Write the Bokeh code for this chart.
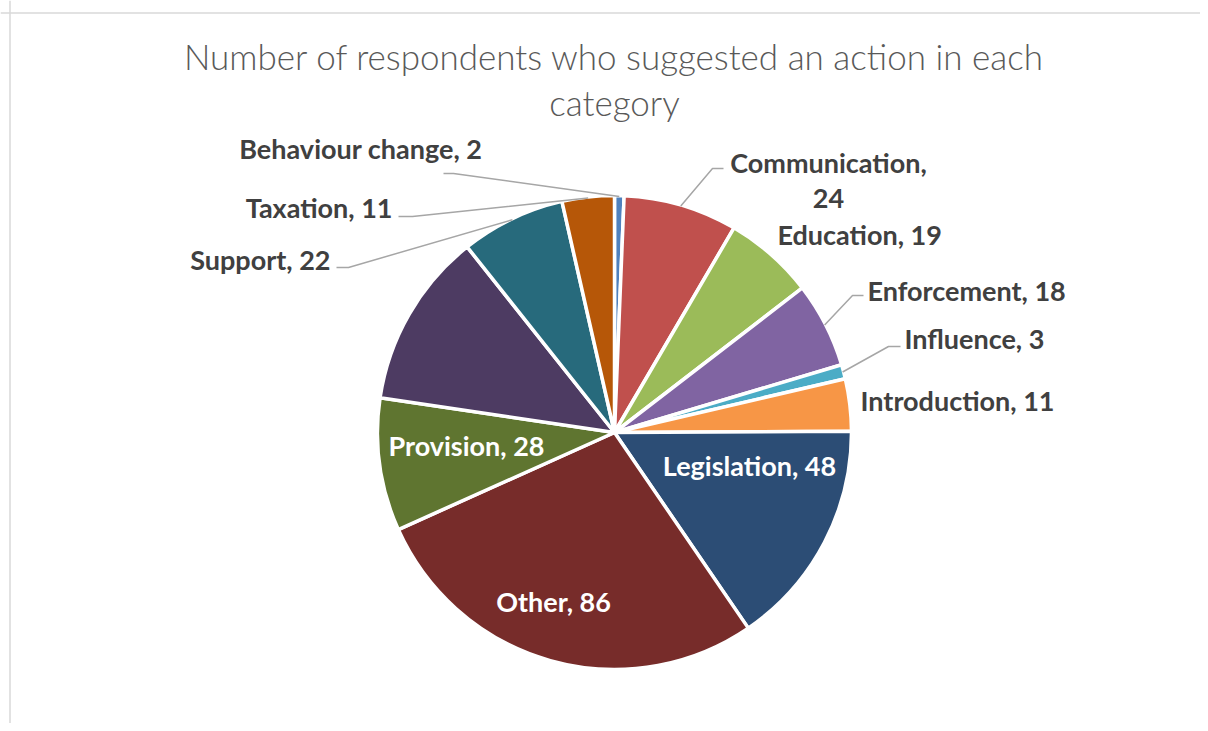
import numpy as np
from bokeh.plotting import figure
from bokeh.models import Range1d, Span
from bokeh.core.properties import value
from bokeh.embed import file_html
from bokeh.resources import INLINE

# ---- data ----
categories = ["Behaviour change", "Communication", "Education", "Enforcement",
              "Influence", "Introduction", "Legislation", "Other", "Provision",
              "Regulation", "Support", "Taxation"]
counts = [2, 24, 19, 18, 3, 11, 48, 86, 28, 37, 22, 11]
show_label = [True, True, True, True, True, True, True, True, True,
              False, True, True]
colors = ["#4F81BD", "#C0504D", "#9BBB59", "#8064A2", "#4BACC6", "#F79646",
          "#2C4D75", "#772C2A", "#5F7530", "#4D3B62", "#276A7C", "#B65708"]
title_lines = ["Number of respondents who suggested an action in each", "category"]

# ---- layout (page pixel coordinates; data y = -page y) ----
W, H = 1200, 723
CX, CY, R = 614, -432, 237
LABEL_SHIFT = 8   # renderer places text lower than the nominal baseline
TITLE_SHIFT = 12

# label anchor: (x, baseline y, align, color, leader start points or None)
label_layout = {
    "Behaviour change": (482, 156, "right", "#404040", [(443, 173), (453, 173)]),
    "Communication":    (828, 170, "center", "#404040", [(723, 168), (712, 168)]),
    "Education":        (777, 242, "left", "#404040", None),
    "Enforcement":      (867, 298, "left", "#404040", [(863, 295), (852, 295)]),
    "Influence":        (904, 346, "left", "#404040", [(900, 346), (888, 346)]),
    "Introduction":     (860, 408, "left", "#404040", None),
    "Legislation":      (749, 473, "center", "white", None),
    "Other":            (553, 609, "center", "white", None),
    "Provision":        (466, 453, "center", "white", None),
    "Support":          (330, 267, "right", "#404040", [(336, 267), (348, 267)]),
    "Taxation":         (392, 215, "right", "#404040", [(398, 216), (412, 216)]),
}

p = figure(width=W, height=H, output_backend="svg", toolbar_location=None,
           x_range=Range1d(0, W), y_range=Range1d(-H, 0),
           x_axis_location=None, y_axis_location=None,
           min_border=0, min_border_left=0, min_border_right=0,
           min_border_top=0, min_border_bottom=0)
p.grid.visible = False
p.outline_line_color = None
p.background_fill_color = "white"

# chart-area border (top and left edges visible in the reference)
p.add_layout(Span(location=9.5, dimension="height", line_color="#D9D9D9", line_width=1.5))
p.add_layout(Span(location=-12.5, dimension="width", line_color="#D9D9D9", line_width=1.5))

total = float(sum(counts))
cum = np.concatenate([[0.0], np.cumsum(counts)])
start = np.pi / 2 - cum[:-1] / total * 2 * np.pi
end = np.pi / 2 - cum[1:] / total * 2 * np.pi
mid = (start + end) / 2

p.wedge(x=CX, y=CY, radius=R, start_angle=list(start), end_angle=list(end),
        direction="clock", fill_color=colors, line_color="white", line_width=3.5)

label_font = value("Lato")
FS = "27px"
for i, cat in enumerate(categories):
    if not show_label[i]:
        continue
    lx, ly, align, col, leader = label_layout[cat]
    if leader is not None:
        ex = CX + (R - 1) * np.cos(mid[i])
        ey = CY + (R - 1) * np.sin(mid[i])
        xs = [pt[0] for pt in leader] + [ex]
        ys = [-pt[1] for pt in leader] + [ey]
        p.line(xs, ys, line_color="#A6A6A6", line_width=1.5)
    by = -(ly - LABEL_SHIFT)
    if cat == "Communication":
        p.text(x=[lx, lx], y=[by, by - 36], text=[cat + ",", str(counts[i])],
               text_align="center", text_baseline="alphabetic",
               text_font=label_font, text_font_style="bold",
               text_font_size=FS, text_color=col)
    else:
        p.text(x=[lx], y=[by], text=[f"{cat}, {counts[i]}"],
               text_align=align, text_baseline="alphabetic",
               text_font=label_font, text_font_style="bold",
               text_font_size=FS, text_color=col)

# title
p.text(x=[614, 614], y=[-(67 - TITLE_SHIFT), -(113 - TITLE_SHIFT)], text=title_lines,
       text_align="center", text_baseline="alphabetic",
       text_font=value("Lato Light, Lato"), text_font_size="35px",
       text_color="#595959")

open("out.html", "w").write(file_html(p, INLINE))
